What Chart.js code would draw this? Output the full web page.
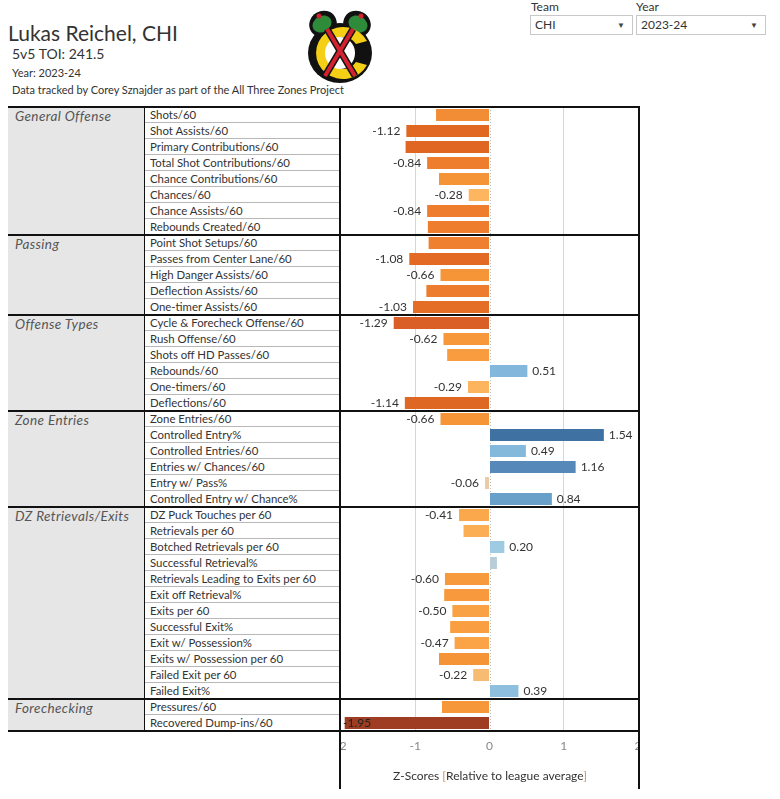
<!DOCTYPE html>
<html lang="en">
<head>
    <meta charset="UTF-8">
    <title>Lukas Reichel, CHI</title>
    <script src="https://cdn.jsdelivr.net/npm/chart.js"></script>
    <style>
        body {
            margin: 0;
            padding: 0;
            background: white;
            font-family: Lato, "Noto Sans", sans-serif;
            color: #333;
            width: 780px;
            height: 799px;
            position: relative;
            overflow: hidden;
        }
        .abs { position: absolute; white-space: nowrap; }
        #title { left: 8px; top: 20px; font-size: 21px; color: #333; }
        #toi { left: 12px; top: 45px; font-size: 14px; }
        #year { left: 12px; top: 66px; font-size: 11px; }
        #credit { left: 12px; top: 83px; font-size: 11px; }
        .ctl-label { font-size: 12px; color: #333; top: -1px; }
        .select {
            top: 15px; border: 1px solid #c8c8c8;
            font-size: 12px; line-height: 18px; padding-left: 4px;
            box-sizing: border-box; height: 20px; color: #333;
        }
        .select span { position: absolute; right: 7px; top: 0; font-size: 8px; color: #444; }
        .group { background: #e6e6e6; font-style: italic; font-size: 13.5px; letter-spacing: 0.4px; color: #555; padding: 1px 0 0 7px; box-sizing: border-box; }
        .metric { font-size: 11.4px; color: #333; line-height: 15px; padding-left: 5px; box-sizing: border-box; border-bottom: 1px solid #b8b8b8; }
        .hline { height: 2px; background: #111; }
        .vline { width: 2px; background: #111; }
        #chartBox { left: 340px; top: 107px; width: 300px; height: 682px; }
        #axisTitle { left: 340px; width: 300px; top: 768px; text-align: center; font-size: 12px; color: #333; }
        #axisTitle b { font-weight: normal; color: #d28a4c; }
    </style>
</head>
<body>

<div class="abs" id="title">Lukas Reichel, CHI</div>
<div class="abs" id="toi">5v5 TOI: 241.5</div>
<div class="abs" id="year">Year: 2023-24</div>
<div class="abs" id="credit">Data tracked by Corey Sznajder as part of the All Three Zones Project</div>

<svg class="abs" style="left:300px; top:4px" width="80" height="82" viewBox="300 4 80 82">
    <ellipse cx="340" cy="53" rx="32" ry="30" fill="#111"/>
    <ellipse cx="323" cy="24" rx="14" ry="13" fill="#111" transform="rotate(-30 323 24)"/>
    <ellipse cx="357" cy="24" rx="14" ry="13" fill="#111" transform="rotate(30 357 24)"/>
    <ellipse cx="322" cy="24" rx="10" ry="8" fill="#2e8b3a" transform="rotate(-30 322 24)"/>
    <ellipse cx="358" cy="24" rx="10" ry="8" fill="#2e8b3a" transform="rotate(30 358 24)"/>
    <circle cx="319" cy="16" r="2.5" fill="#d3212f"/>
    <circle cx="361" cy="16" r="2.5" fill="#d3212f"/>
    <path d="M 367 41 A 27 26 0 1 0 367 65 L 356 62 A 16 16 0 1 1 356 44 Z" fill="#f5cf16"/>
    <ellipse cx="340" cy="53" rx="15" ry="16" fill="#fff"/>
    <line x1="327" y1="29" x2="355" y2="76" stroke="#111" stroke-width="7"/>
    <line x1="353" y1="29" x2="325" y2="76" stroke="#111" stroke-width="7"/>
    <line x1="327" y1="29" x2="355" y2="76" stroke="#d3212f" stroke-width="4"/>
    <line x1="353" y1="29" x2="325" y2="76" stroke="#d3212f" stroke-width="4"/>
</svg>

<div class="abs ctl-label" style="left:531px">Team</div>
<div class="abs select" style="left:530px; width:103px">CHI<span>&#9660;</span></div>
<div class="abs ctl-label" style="left:636px">Year</div>
<div class="abs select" style="left:636px; width:130px">2023-24<span>&#9660;</span></div>

<div id="table"></div>

<div class="abs" id="chartBox"><canvas id="zChart"></canvas></div>
<div id="lines"></div>
<div class="abs" id="axisTitle">Z-Scores <b>[</b>Relative to league average<b>]</b></div>

<script>
    // data
    const groups = ['General Offense', 'Passing', 'Offense Types', 'Zone Entries', 'DZ Retrievals/Exits', 'Forechecking'];
    const groupSizes = [8, 5, 6, 6, 12, 2];
    const metrics = [
        'Shots/60', 'Shot Assists/60', 'Primary Contributions/60', 'Total Shot Contributions/60',
        'Chance Contributions/60', 'Chances/60', 'Chance Assists/60', 'Rebounds Created/60',
        'Point Shot Setups/60', 'Passes from Center Lane/60', 'High Danger Assists/60',
        'Deflection Assists/60', 'One-timer Assists/60',
        'Cycle & Forecheck Offense/60', 'Rush Offense/60', 'Shots off HD Passes/60',
        'Rebounds/60', 'One-timers/60', 'Deflections/60',
        'Zone Entries/60', 'Controlled Entry%', 'Controlled Entries/60', 'Entries w/ Chances/60',
        'Entry w/ Pass%', 'Controlled Entry w/ Chance%',
        'DZ Puck Touches per 60', 'Retrievals per 60', 'Botched Retrievals per 60',
        'Successful Retrieval%', 'Retrievals Leading to Exits per 60', 'Exit off Retrieval%',
        'Exits per 60', 'Successful Exit%', 'Exit w/ Possession%', 'Exits w/ Possession per 60',
        'Failed Exit per 60', 'Failed Exit%',
        'Pressures/60', 'Recovered Dump-ins/60'
    ];
    const zScores = [
        -0.72, -1.12, -1.13, -0.84, -0.68, -0.28, -0.84, -0.83,
        -0.82, -1.08, -0.66, -0.85, -1.03,
        -1.29, -0.62, -0.57, 0.51, -0.29, -1.14,
        -0.66, 1.54, 0.49, 1.16, -0.06, 0.84,
        -0.41, -0.35, 0.20, 0.10, -0.60, -0.61, -0.50, -0.53, -0.47, -0.68, -0.22, 0.39,
        -0.64, -1.95
    ];
    // which bars carry a value label
    const showValue = [
        0, 1, 0, 1, 0, 1, 1, 0,
        0, 1, 1, 0, 1,
        1, 1, 0, 1, 1, 1,
        1, 1, 1, 1, 1, 1,
        1, 0, 1, 0, 1, 0, 1, 0, 1, 0, 1, 1,
        0, 1
    ];
    const xTicks = [-2, -1, 0, 1, 2];

    const ROW_H = 16, TOP = 107;
    const X_GROUP = 8, X_LABEL = 145, X_CHART = 340, X_END = 640;

    // orange-blue diverging colour ramp, position = z / 1.95
    const ramp = [
        [-1.00, [158, 61, 34]], [-0.66, [217, 95, 39]], [-0.57, [224, 104, 35]],
        [-0.43, [238, 125, 46]], [-0.34, [246, 149, 56]], [-0.21, [251, 168, 76]],
        [-0.14, [253, 182, 96]], [-0.03, [233, 203, 168]], [0.00, [217, 213, 201]],
        [0.05, [185, 205, 216]], [0.10, [159, 203, 226]], [0.25, [133, 185, 220]],
        [0.43, [105, 160, 202]], [0.59, [87, 138, 187]], [0.79, [63, 113, 162]],
        [1.00, [43, 92, 138]]
    ];
    function zColor(z) {
        const t = Math.max(-1, Math.min(1, z / 1.95));
        for (let i = 1; i < ramp.length; i++) {
            if (t <= ramp[i][0]) {
                const [t0, c0] = ramp[i - 1], [t1, c1] = ramp[i];
                const f = (t - t0) / (t1 - t0);
                const c = c0.map((v, k) => Math.round(v + (c1[k] - v) * f));
                return `rgb(${c[0]}, ${c[1]}, ${c[2]})`;
            }
        }
        return 'rgb(43, 92, 138)';
    }

    // left table + separator lines
    function buildTable() {
        const table = document.getElementById('table');
        const lines = document.getElementById('lines');
        let row = 0;
        const add = (parent, cls, css, text) => {
            const el = document.createElement('div');
            el.className = 'abs ' + cls;
            Object.assign(el.style, css);
            if (text) el.textContent = text;
            parent.appendChild(el);
        };
        groups.forEach((g, gi) => {
            const y = TOP + row * ROW_H;
            add(table, 'group', { left: X_GROUP + 'px', top: y + 'px', width: (X_LABEL - X_GROUP) + 'px', height: groupSizes[gi] * ROW_H + 'px' }, g);
            for (let k = 0; k < groupSizes[gi]; k++) {
                add(table, 'metric', { left: X_LABEL + 'px', top: (y + k * ROW_H) + 'px', width: (X_CHART - X_LABEL) + 'px', height: ROW_H + 'px' }, metrics[row + k]);
            }
            add(lines, 'hline', { left: X_GROUP + 'px', top: (y - 1) + 'px', width: (X_END - X_GROUP) + 'px' });
            row += groupSizes[gi];
        });
        const bottom = TOP + row * ROW_H;
        add(lines, 'hline', { left: X_GROUP + 'px', top: (bottom - 1) + 'px', width: (X_END - X_GROUP) + 'px' });
        add(lines, 'vline', { left: (X_LABEL - 1) + 'px', top: TOP + 'px', height: (bottom - TOP) + 'px', width: '1px' });
        add(lines, 'vline', { left: (X_CHART - 1) + 'px', top: TOP + 'px', height: '682px' });
        add(lines, 'vline', { left: (X_END - 2) + 'px', top: TOP + 'px', height: '682px' });
    }

    const valueLabels = {
        id: 'valueLabels',
        afterDatasetsDraw(chart) {
            const { ctx, chartArea } = chart;
            const meta = chart.getDatasetMeta(0);
            ctx.save();
            ctx.font = '12px Lato, "Noto Sans", sans-serif';
            ctx.fillStyle = '#333';
            ctx.textBaseline = 'middle';
            meta.data.forEach((bar, i) => {
                if (!showValue[i]) return;
                const z = zScores[i];
                const txt = z.toFixed(2);
                const w = ctx.measureText(txt).width;
                if (z >= 0) {
                    ctx.textAlign = 'left';
                    ctx.fillText(txt, bar.x + 5, bar.y);
                } else if (bar.x - 6 - w < chartArea.left) {
                    ctx.textAlign = 'left';
                    ctx.fillStyle = '#222';
                    ctx.fillText(txt, chartArea.left + 2, bar.y);
                } else {
                    ctx.textAlign = 'right';
                    ctx.fillText(txt, bar.x - 6, bar.y);
                }
            });
            ctx.restore();
        }
    };

    const zeroLine = {
        id: 'zeroLine',
        beforeDatasetsDraw(chart) {
            const { ctx, chartArea, scales } = chart;
            const x = Math.round(scales.x.getPixelForValue(0)) + 0.5;
            ctx.save();
            ctx.strokeStyle = '#bdbdbd';
            ctx.setLineDash([1, 2]);
            ctx.lineWidth = 1;
            ctx.beginPath();
            ctx.moveTo(x, chartArea.top);
            ctx.lineTo(x, chartArea.bottom);
            ctx.stroke();
            ctx.restore();
        }
    };

    function createChart() {
        const ctx = document.getElementById('zChart').getContext('2d');
        new Chart(ctx, {
            type: 'bar',
            data: {
                labels: metrics,
                datasets: [{
                    data: zScores,
                    backgroundColor: zScores.map(zColor),
                    borderWidth: 0,
                    categoryPercentage: 1,
                    barPercentage: 0.75
                }]
            },
            options: {
                indexAxis: 'y',
                responsive: true,
                maintainAspectRatio: false,
                animation: false,
                layout: { padding: { left: 1, right: 2, top: 0, bottom: 0 } },
                scales: {
                    x: {
                        min: -2,
                        max: 2,
                        afterBuildTicks: (scale) => { scale.ticks = xTicks.map(v => ({ value: v })); },
                        afterFit: (scale) => { scale.height = 58; scale.paddingLeft = 0; scale.paddingRight = 0; },
                        border: { display: false },
                        grid: {
                            drawTicks: false,
                            color: (c) => (c.tick && Math.abs(c.tick.value) === 1) ? '#d6d6d6' : 'transparent'
                        },
                        ticks: {
                            padding: 8,
                            color: '#888',
                            font: { family: 'Lato', size: 12 },
                            callback: (v) => String(v)
                        }
                    },
                    y: { display: false }
                },
                plugins: {
                    legend: { display: false },
                    tooltip: { enabled: false }
                }
            },
            plugins: [zeroLine, valueLabels]
        });
    }

    buildTable();
    createChart();
</script>

</body>
</html>
